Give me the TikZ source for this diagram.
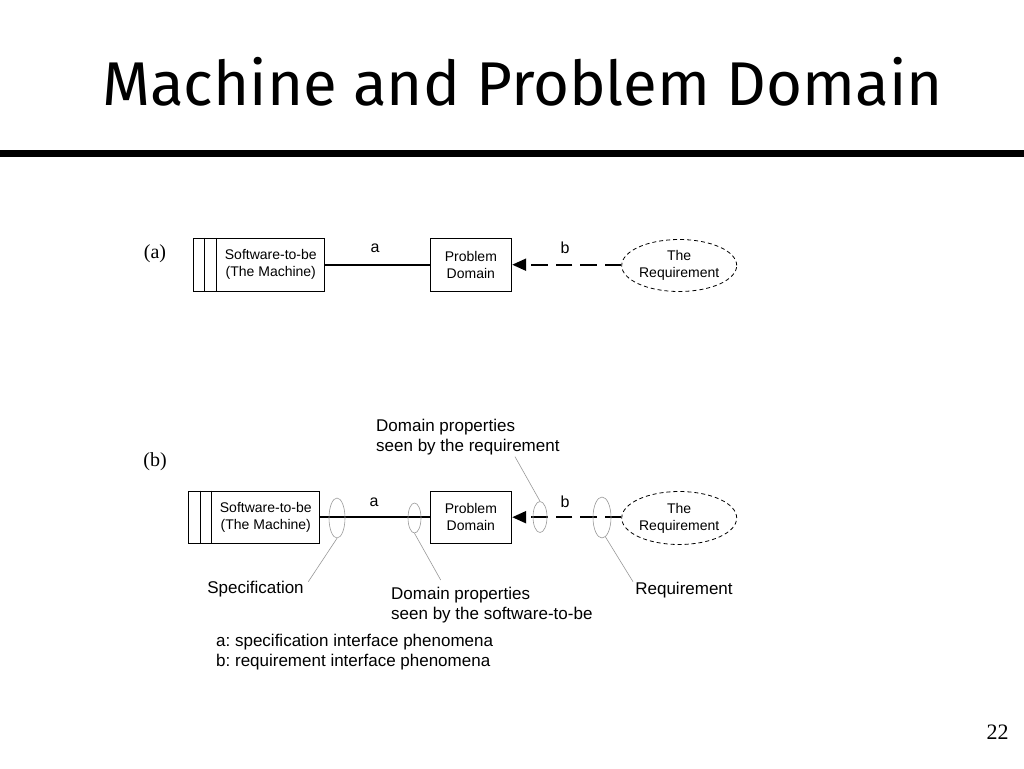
\documentclass[tikz,border=0pt]{standalone}
\usepackage{fontspec}
\usetikzlibrary{arrows.meta,calc,shapes.geometric}
\newfontfamily\arfont{Liberation Sans}
\newfontfamily\tmfont{Liberation Serif}
\newfontfamily\ttlfont{Fira Sans}
\frenchspacing
\begin{document}
\begin{tikzpicture}[x=1pt,y=-1pt,
  box/.style={draw,line width=1pt,inner sep=0pt},
  boxtext/.style={font=\arfont\fontsize{14}{17}\selectfont,align=center,inner sep=0pt},
  reqell/.style={draw,ellipse,dash pattern=on 4pt off 3pt,line width=0.8pt,minimum width=115pt,minimum height=52pt,inner sep=0pt,font=\arfont\fontsize{14}{17}\selectfont,align=center},
  lbl/.style={font=\arfont\fontsize{16}{19}\selectfont,inner sep=0pt},
  note/.style={font=\arfont\fontsize{17}{20}\selectfont,inner sep=0pt,align=left},
  tag/.style={font=\tmfont\fontsize{20}{22}\selectfont,inner sep=0pt},
  solidlink/.style={line width=2pt},
  dashlink/.style={line width=2.2pt,dash pattern=on 16.5pt off 8pt,-{Triangle[length=14pt,width=12pt]}},
  ring/.style={draw=gray!80,ellipse,line width=0.6pt,inner sep=0pt},
  leader/.style={draw=gray!80,line width=0.6pt}]
\fill[white] (0,0) rectangle (1024,768);
\useasboundingbox (0,0) rectangle (1024,768);

% title
\node[anchor=base,inner sep=0pt,font=\ttlfont\fontsize{61.8}{70}\selectfont] (title) at (522.5,105) {Machine and Problem Domain};
\fill (0,150) rectangle (1024,157);

% (a)
\node[tag] (taga) at (155,254) {(a)};
\node[box,minimum width=131pt,minimum height=52.7pt] (m1) at (258.8,264.7) {};
\draw[line width=1pt] ($(m1.north west)+(11.7,0)$) -- ($(m1.south west)+(11.7,0)$);
\draw[line width=1pt] ($(m1.north west)+(24,0)$) -- ($(m1.south west)+(24,0)$);
\node[boxtext] (m1t) at (270.8,264.7) {Software-to-be\\(The Machine)};
\node[box,minimum width=81.7pt,minimum height=52.7pt,boxtext] (p1) at (470.85,264.7) {Problem\\Domain};
\node[reqell] (r1) at (679.2,265.5) {The\\Requirement};
\draw[solidlink] (m1.east) -- (p1.west);
\draw[dashlink] (p1.east -| r1.west) -- (p1.east);
\node[lbl] (la1) at (375,248) {a};
\node[lbl] (lb1) at (565,248) {b};

% (b)
\node[tag] (tagb) at (155,462) {(b)};
\node[note,anchor=west] (dpr) at (376,437) {Domain properties\\seen by the requirement};
\node[box,minimum width=131pt,minimum height=52.3pt] (m2) at (253.8,517.2) {};
\draw[line width=1pt] ($(m2.north west)+(12.2,0)$) -- ($(m2.south west)+(12.2,0)$);
\draw[line width=1pt] ($(m2.north west)+(24,0)$) -- ($(m2.south west)+(24,0)$);
\node[boxtext] (m2t) at (265.8,517.2) {Software-to-be\\(The Machine)};
\node[box,minimum width=81.7pt,minimum height=52.3pt,boxtext] (p2) at (470.85,517.2) {Problem\\Domain};
\node[reqell,minimum height=53pt] (r2) at (679.2,518) {The\\Requirement};
\draw[solidlink] (m2.east) -- (p2.west);
\draw[dashlink] (p2.east -| r2.west) -- (p2.east);
\node[lbl] (la2) at (374,502) {a};
\node[lbl] (lb2) at (565,502) {b};

% interface rings
\node[ring,minimum width=16pt,minimum height=40pt] (e1) at (337,518) {};
\node[ring,minimum width=13pt,minimum height=30pt] (e2) at (414.5,518) {};
\node[ring,minimum width=14pt,minimum height=31pt] (e3) at (540,517) {};
\node[ring,minimum width=18pt,minimum height=41pt] (e4) at (602,517.5) {};

\node[note] (spec) at (255.5,589) {Specification};
\node[note,anchor=west] (dps) at (391,605) {Domain properties\\seen by the software-to-be};
\node[note] (req) at (684,590) {Requirement};
\node[note,anchor=west] (legend) at (216,651.7) {a: specification interface phenomena\\b: requirement interface phenomena};

\coordinate (c1) at (308.3,581.7);
\coordinate (c2) at (440.7,580);
\coordinate (c3) at (515,456.7);
\coordinate (c4) at (633,581.7);
\draw[leader] (e1.south) -- (c1);
\draw[leader] (e2.south) -- (c2);
\draw[leader] (c3) -- (e3.north);
\draw[leader] (e4.-80) -- (c4);

\node[tag,font=\tmfont\fontsize{22}{24}\selectfont] (pg) at (997.5,732) {22};
\end{tikzpicture}
\end{document}
